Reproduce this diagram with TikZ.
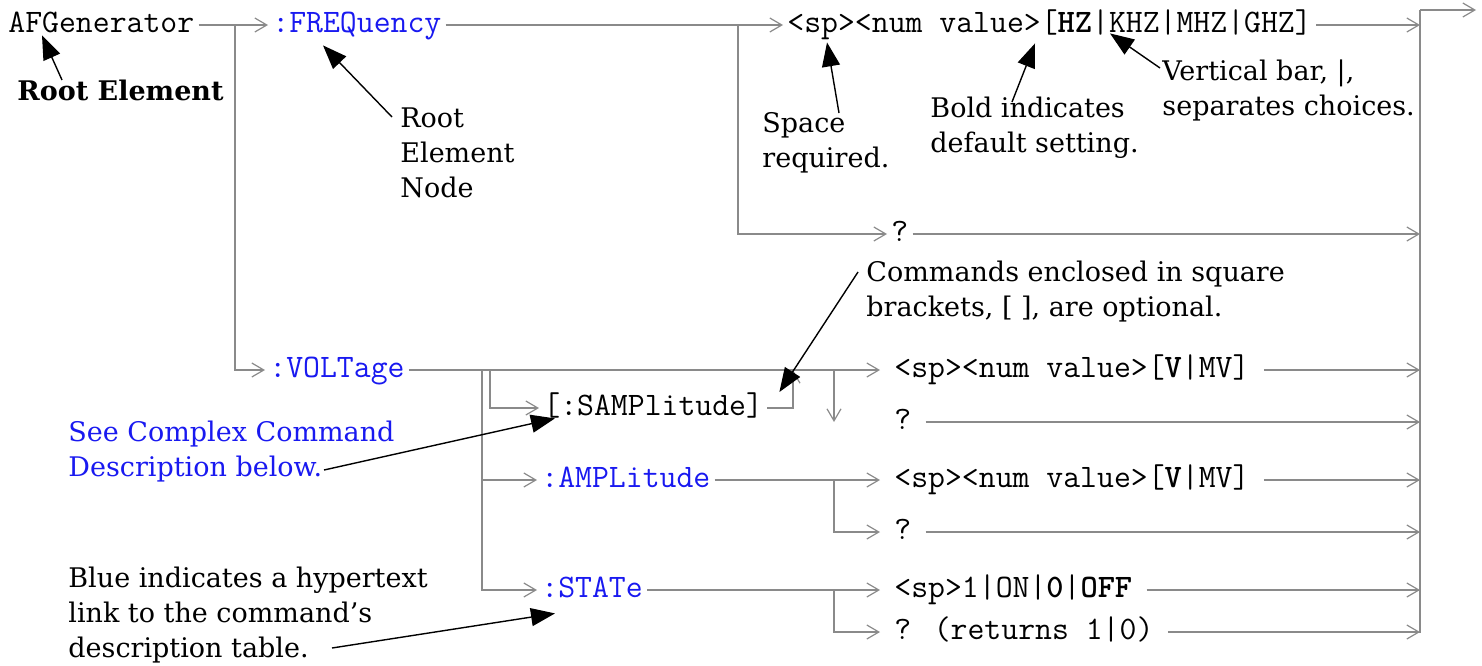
\documentclass[tikz,border=0pt]{standalone}
\usepackage{fontspec}
\newfontfamily\notefont{DejaVu Serif}
\usetikzlibrary{arrows.meta}
\definecolor{wiregray}{RGB}{138,138,138}
\definecolor{linkblue}{RGB}{25,25,240}
\tikzstyle{cmd} = [anchor=west, inner xsep=2pt, inner ysep=0pt,
    text height=10pt, text depth=3pt, font=\fontsize{16.4}{19}\selectfont\ttfamily]
\tikzstyle{link} = [cmd, text=linkblue]
\tikzstyle{choice} = [cmd, inner xsep=7pt]
\tikzstyle{note} = [anchor=base west, inner sep=0pt, align=left,
    font=\notefont\fontsize{13.5}{17.5}\selectfont]
\tikzstyle{line} = [draw=wiregray, line width=1pt,
    -{Straight Barb[length=6pt,width=7pt,line width=0.6pt]}]
\tikzstyle{plain} = [draw=wiregray, line width=1pt]
\tikzstyle{pointer} = [draw, line width=0.7pt, -{Triangle[length=12pt,width=9pt]}]

\begin{document}
\begin{tikzpicture}[x=0.5pt, y=-0.5pt]
    \useasboundingbox (0,0) rectangle (1482,665);
    % Place nodes
    \node [cmd] (afgen) at (4,25) {AFGenerator};
    \node [link] (freq) at (268,25) {:FREQuency};
    \node [cmd] (hz) at (783,25) {<sp><num value>[\textbf{HZ}|KHZ|MHZ|GHZ]};
    \node [cmd] (fq) at (887,234) {?};
    \node [link] (volt) at (265,370) {:VOLTage};
    \node [cmd] (samp) at (539,408) {[:SAMPlitude]};
    \node [choice] (vsp) at (880,370) {<sp><num value>[\textbf{V}|MV]};
    \node [choice] (vq) at (880,422) {?};
    \node [link] (ampl) at (537,480) {:AMPLitude};
    \node [choice] (asp) at (880,480) {<sp><num value>[\textbf{V}|MV]};
    \node [choice] (aq) at (880,532) {?};
    \node [link] (stat) at (537,590) {:STATe};
    \node [choice] (ssp) at (880,590) {<sp>1|ON|\textbf{0}|\textbf{OFF}};
    \node [choice] (sq) at (880,632) {? (returns 1|0)};
    % Notes (placed by the baseline of their last line)
    \node [note] (rootlbl) at (17,100) {\textbf{Root Element}};
    \node [note] (rennote) at (400,197) {Root\\Element\\Node};
    \node [note] (spacenote) at (762,167) {Space\\required.};
    \node [note] (boldnote) at (930,152) {Bold indicates\\default setting.};
    \node [note] (barnote) at (1162,115) {Vertical bar, |,\\separates choices.};
    \node [note] (cmdnote) at (866,316) {Commands enclosed in square\\brackets, [ ], are optional.};
    \node [note, text=linkblue] (seenote) at (68,476) {See Complex Command\\Description below.};
    \node [note] (bluenote) at (68,657) {Blue indicates a hypertext\\link to the command’s\\description table.};
    % Junctions
    \coordinate (rootsplit) at (235,25);
    \coordinate (freqsplit) at (738,25);
    \coordinate (voltsplit) at (482,370);
    \coordinate (sampsplit) at (490,370);
    \coordinate (sampjoin) at (793,370);
    \coordinate (voltq) at (834,370);
    \coordinate (amplsplit) at (834,480);
    \coordinate (statsplit) at (834,590);
    \coordinate (bustop) at (1420,10);
    \coordinate (busend) at (1420,633);
    \coordinate (out) at (1476,10);
    % Draw edges
    \path [line] (afgen) -- (freq);
    \path [line] (rootsplit) |- (volt);
    \path [line] (freq) -- (hz);
    \path [line] (freqsplit) |- (fq);
    \path [line] (volt) -- (vsp);
    \path [line] (sampsplit) |- (samp);
    \path [line] (samp) -| (sampjoin);
    \path [line] (voltq) -- (voltq |- vq);
    \path [line] (voltsplit) |- (stat);
    \path [line] (voltsplit |- ampl) -- (ampl);
    \path [line] (ampl) -- (asp);
    \path [line] (amplsplit) |- (aq);
    \path [line] (stat) -- (ssp);
    \path [line] (statsplit) |- (sq);
    \foreach \n in {hz,fq,vsp,vq,asp,aq,ssp,sq}
        \path [line] (\n) -- (\n -| bustop);
    \path [plain] (busend) -- (bustop);
    \path [line] (bustop) -- (out);
    % Draw pointers
    \path [pointer] ([xshift=22.5pt,yshift=10pt]rootlbl.base west) -- ([xshift=19pt,yshift=1.5pt]afgen.south west);
    \path [pointer] ([xshift=-4pt,yshift=40pt]rennote.base west) -- ([xshift=27.5pt,yshift=-3.5pt]freq.south west);
    \path [pointer] ([xshift=38.5pt,yshift=27pt]spacenote.base west) -- ([xshift=22pt,yshift=-2pt]hz.south west);
    \path [pointer] ([xshift=41pt,yshift=25pt]boldnote.base west) -- ([xshift=126pt,yshift=-2.5pt]hz.south west);
    \path [pointer] ([xshift=-1pt,yshift=23.5pt]barnote.base west) -- ([xshift=163.5pt,yshift=2.5pt]hz.south west);
    \path [pointer] ([xshift=-4pt,yshift=22pt]cmdnote.base west) -- ([xshift=6pt,yshift=8pt]samp.east);
    \path [pointer] ([xshift=128pt,yshift=3pt]seenote.base west) -- ([xshift=8pt,yshift=1.5pt]samp.south west);
    \path [pointer] ([xshift=132pt,yshift=4.5pt]bluenote.base west) -- ([xshift=9pt,yshift=-5pt]stat.south west);
\end{tikzpicture}
\end{document}
